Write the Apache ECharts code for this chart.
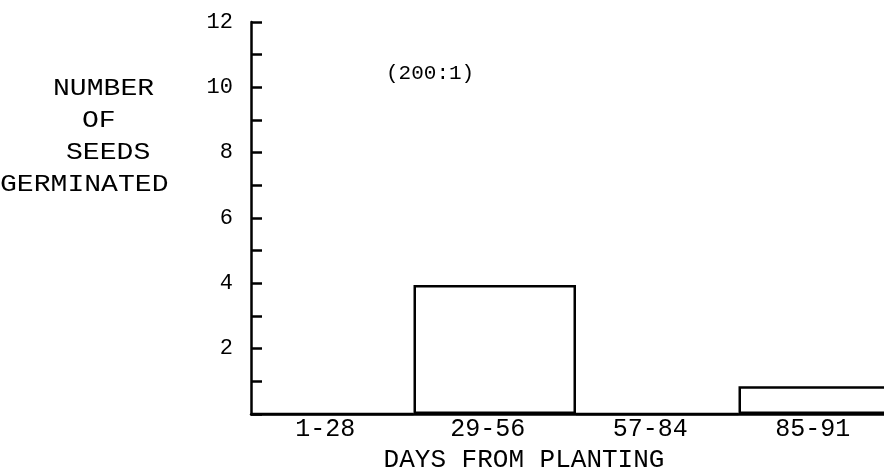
<!DOCTYPE html>
<html>
<head>
<meta charset="utf-8">
<script src="https://cdn.jsdelivr.net/npm/echarts@6/dist/echarts.min.js"></script>
<style>html,body{margin:0;padding:0;background:#fff;}#c{width:884px;height:476px;}</style>
</head>
<body>
<div id="c"></div>
<script>
const categories = ['1-28', '29-56', '57-84', '85-91'];
const seeds = [0, 3.95, 0, 0.85];
const yTicks = [0, 2, 4, 6, 8, 10, 12];
const chartTitle = '(200:1)';
const yNameLines = ['NUMBER', 'OF', 'SEEDS', 'GERMINATED'];
const xName = 'DAYS FROM PLANTING';

const FONT = '"Liberation Mono", "DejaVu Sans Mono", monospace';
const lineX = [53, 82, 66, 0];
const chart = echarts.init(document.getElementById('c'), null, {renderer: 'canvas'});
chart.setOption({
  backgroundColor: '#fff',
  animation: false,
  title: {
    text: chartTitle, left: 381, top: 58,
    textStyle: {fontFamily: FONT, fontSize: 21, fontWeight: 'normal', color: '#000'}
  },
  graphic: yNameLines.map((t, i) => ({
    type: 'text', x: lineX[i], y: 77 + i * 32, scaleX: 1.17, originX: 0,
    style: {text: t, fontFamily: FONT, fontSize: 24, align: 'left', verticalAlign: 'top', fill: '#000'}
  })),
  grid: {left: 251, top: 22, bottom: 62, width: 650, outerBoundsMode: 'none', containLabel: false},
  xAxis: {
    type: 'category', data: categories,
    name: xName, nameLocation: 'middle', nameGap: 33,
    nameTextStyle: {fontFamily: FONT, fontSize: 26, color: '#000', padding: [0, 104, 0, 0]},
    axisLine: {lineStyle: {color: '#000', width: 2.5}},
    axisTick: {show: false},
    axisLabel: {fontFamily: FONT, fontSize: 25, color: '#000', margin: 3, padding: [0, 14, 0, 0]}
  },
  yAxis: {
    type: 'value', min: yTicks[0], max: yTicks[yTicks.length - 1], interval: 2,
    axisLine: {show: true, lineStyle: {color: '#000', width: 2.5}},
    axisTick: {show: true, inside: true, length: 11, lineStyle: {color: '#000', width: 2.5}},
    minorTick: {show: true, splitNumber: 2, length: 11, lineStyle: {color: '#000', width: 2.5}},
    splitLine: {show: false},
    axisLabel: {fontFamily: FONT, fontSize: 22, color: '#000', margin: 18, formatter: v => (v === 0 ? '' : String(v))}
  },
  series: [{
    type: 'bar', data: seeds, barWidth: '100%',
    itemStyle: {color: '#fff', borderColor: '#000', borderWidth: 2.5}
  }]
});
</script>
</body>
</html>
